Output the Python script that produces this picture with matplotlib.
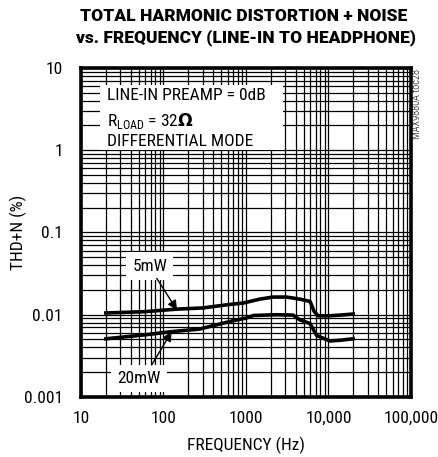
import numpy as np
import matplotlib
matplotlib.use("Agg")
from matplotlib import pyplot as plt
from matplotlib.patches import Rectangle
from matplotlib.ticker import LogLocator, FixedLocator, NullFormatter

plt.rcParams['font.family'] = ['Roboto Condensed', 'DejaVu Sans']
plt.rcParams['mathtext.fontset'] = 'custom'
plt.rcParams['mathtext.rm'] = 'Roboto Condensed'
plt.rcParams['mathtext.bf'] = 'DejaVu Sans:bold'

# THD+N vs frequency, line-in to headphone
freq_5mw = [20, 60, 145, 300, 585, 935, 1480, 2140, 3100, 4480, 6000, 6700, 7500, 10000, 14000, 20000]
thd_5mw = [0.0105, 0.0109, 0.0117, 0.0121, 0.0132, 0.0139, 0.0155, 0.0164, 0.0164, 0.0155, 0.0145, 0.0110, 0.0097, 0.0097, 0.0099, 0.0102]

freq_20mw = [20, 60, 120, 275, 710, 1000, 1240, 2350, 3730, 4480, 6000, 7200, 10400, 14000, 20000]
thd_20mw = [0.0051, 0.0057, 0.0062, 0.0067, 0.0085, 0.0091, 0.0098, 0.0100, 0.0099, 0.0087, 0.0078, 0.0056, 0.0048, 0.0049, 0.0051]

x_ticks = [10, 100, 1000, 10000, 100000]
x_labels = ['10', '100', '1000', '10,000', '100,000']
y_ticks = [0.001, 0.01, 0.1, 1, 10]
y_labels = ['0.001', '0.01', '0.1', '1', '10']


def main():
    fig = plt.figure(figsize=(4.38, 4.57), dpi=100)
    ax = fig.add_axes([0.185, 0.1313, 0.753, 0.72])
    ax.set_xscale('log')
    ax.set_yscale('log')
    ax.set_xlim(10, 100000)
    ax.set_ylim(0.001, 10)

    ax.xaxis.set_major_locator(FixedLocator(x_ticks))
    ax.yaxis.set_major_locator(FixedLocator(y_ticks))
    ax.set_xticklabels(x_labels, fontsize=12.5)
    ax.set_yticklabels(y_labels, fontsize=12.5)
    ax.xaxis.set_minor_locator(LogLocator(base=10, subs=np.arange(2, 10)))
    ax.yaxis.set_minor_locator(LogLocator(base=10, subs=np.arange(2, 10)))
    ax.xaxis.set_minor_formatter(NullFormatter())
    ax.yaxis.set_minor_formatter(NullFormatter())
    ax.tick_params(axis='x', which='both', length=0, pad=10)
    ax.tick_params(axis='y', which='both', length=0, pad=13)
    ax.grid(True, which='both', color='black', linewidth=0.9)
    for s in ax.spines.values():
        s.set_linewidth(2.6)
        s.set_zorder(10)

    ax.plot(freq_5mw, thd_5mw, color='black', linewidth=2.6, zorder=5)
    ax.plot(freq_20mw, thd_20mw, color='black', linewidth=2.6, zorder=5)

    ax.set_xlabel('FREQUENCY (Hz)', fontsize=12.5)
    ax.set_ylabel('THD+N (%)', fontsize=12.5)
    ax.xaxis.label.set_verticalalignment('center')
    ax.yaxis.label.set_verticalalignment('center')
    ax.xaxis.set_label_coords(0.5, -0.148)
    ax.yaxis.set_label_coords(-0.191, 0.5)

    title_font = dict(family=['Roboto', 'Roboto Condensed'], weight=900,
                      fontsize=12.5)
    fig.text(0.557, 0.966, 'TOTAL HARMONIC DISTORTION + NOISE',
             ha='center', va='center', **title_font)
    fig.text(0.562, 0.918, 'vs. FREQUENCY (LINE-IN TO HEADPHONE)',
             ha='center', va='center', **title_font)

    # white panel with the test conditions
    ax.add_patch(Rectangle((0.058, 0.751), 0.554, 0.197, transform=ax.transAxes,
                           facecolor='white', edgecolor='none', zorder=4))
    ax.text(0.079, 0.915, 'LINE-IN PREAMP = 0dB', transform=ax.transAxes,
            ha='left', va='center', fontsize=12.5, zorder=6)
    ax.text(0.079, 0.838, 'R$_{\\mathregular{LOAD}}$ = 32$\\mathbf{\\Omega}$', transform=ax.transAxes,
            ha='left', va='center', fontsize=12.5, zorder=6)
    ax.text(0.079, 0.778, 'DIFFERENTIAL MODE', transform=ax.transAxes,
            ha='left', va='center', fontsize=12.5, zorder=6)

    arrow = dict(arrowstyle='-|>', color='black', lw=1.0, shrinkA=0, shrinkB=0,
                 mutation_scale=14)
    label_box = dict(facecolor='white', edgecolor='none', boxstyle='square,pad=0.35')

    ax.text(68.5, 0.0391, '5mW', fontsize=12.5, ha='center', va='center',
            bbox=label_box, zorder=6)
    ax.annotate('', xy=(146, 0.0114), xytext=(82.8, 0.0277), arrowprops=arrow, zorder=6)

    ax.text(50.5, 0.00166, '20mW', fontsize=12.5, ha='center', va='center',
            bbox=label_box, zorder=6)
    ax.annotate('', xy=(125.6, 0.00622), xytext=(71.9, 0.00245), arrowprops=arrow, zorder=6)

    fig.text(0.953, 0.772, 'MAX9880A toc28', rotation=90, ha='center', va='center',
             fontsize=7.5, family=['Roboto Condensed'], weight=300)

    fig.savefig('out.png', dpi=100)


if __name__ == '__main__':
    main()
